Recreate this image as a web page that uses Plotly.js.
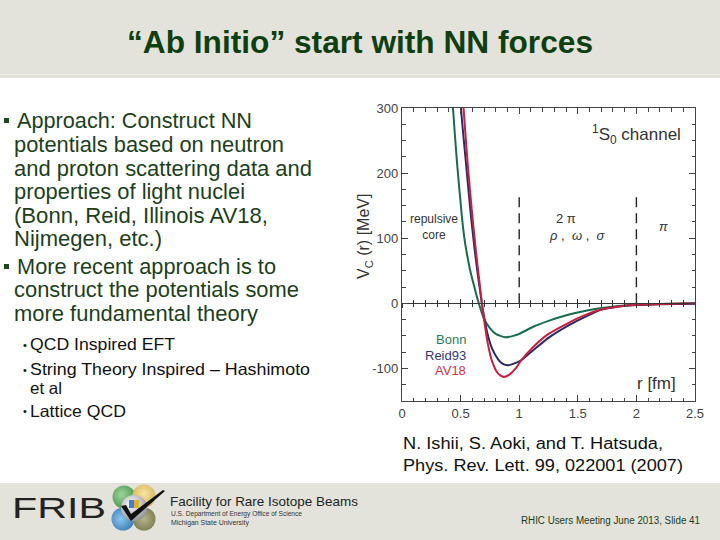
<!DOCTYPE html>
<html>
<head>
<meta charset="utf-8">
<script src="https://cdn.plot.ly/plotly-3.0.1.min.js"></script>
<style>
  html, body { margin:0; padding:0; background:#ffffff; }
  #slide { position:relative; width:720px; height:540px; overflow:hidden; background:#ffffff; font-family:"Liberation Sans", Arial, sans-serif; }
  .band { position:absolute; left:0; width:720px; background:#e4e3db; }
  .t { position:absolute; white-space:nowrap; line-height:1; transform-origin:0 0; }
  #chart { position:absolute; left:0; top:0; width:720px; height:540px; }
</style>
</head>
<body>
<div id="slide">
  <div class="band" style="top:0;height:78px;"></div>
  <div class="band" style="top:74px;height:1px;background:#ecebe5;"></div>
  <div class="band" style="top:483px;height:57px;"></div>
  <div style="position:absolute;left:4px;top:118px;width:5px;height:5px;background:#1c4a1c;"></div>
  <div style="position:absolute;left:4px;top:264px;width:5px;height:5px;background:#1c4a1c;"></div>
  <svg style="position:absolute;left:100px;top:484px;" width="80" height="56" viewBox="100 484 80 56">
    <defs>
      <radialGradient id="gG" cx="0.4" cy="0.4" r="0.7"><stop offset="0" stop-color="#9fd49a"/><stop offset="1" stop-color="#3f8f4a"/></radialGradient>
      <radialGradient id="gY" cx="0.5" cy="0.4" r="0.7"><stop offset="0" stop-color="#f5e6a6"/><stop offset="1" stop-color="#d2a84a"/></radialGradient>
      <radialGradient id="gB" cx="0.4" cy="0.5" r="0.7"><stop offset="0" stop-color="#8cc6ee"/><stop offset="1" stop-color="#2c6fae"/></radialGradient>
      <radialGradient id="gO" cx="0.5" cy="0.5" r="0.7"><stop offset="0" stop-color="#b6b48a"/><stop offset="1" stop-color="#6f6c45"/></radialGradient>
      <radialGradient id="gS" cx="0.4" cy="0.35" r="0.7"><stop offset="0" stop-color="#ffffff"/><stop offset="1" stop-color="#8c8f94"/></radialGradient>
    </defs>
    <circle cx="124" cy="497" r="11.5" fill="url(#gG)"/>
    <circle cx="144" cy="496" r="11.5" fill="url(#gY)"/>
    <circle cx="123" cy="519" r="11.5" fill="url(#gB)"/>
    <circle cx="144" cy="519" r="11.5" fill="url(#gO)"/>
    <circle cx="134" cy="508" r="13" fill="url(#gS)"/>
    <rect x="129" y="500" width="6" height="8" fill="#3f7fd0"/>
    <rect x="134" y="500" width="5" height="8" fill="#e0b030"/>
    <path d="M121 506 L126 505 L131 514 L163 490 L165 491 L131 521 Z" fill="#111"/>
  </svg>
</div>
<div id="chart"></div>
<script>
// ---------- chart data ----------
const bonnR = [0.40, 0.435, 0.47, 0.51, 0.53, 0.555, 0.58, 0.61, 0.655, 0.70, 0.75, 0.80, 0.88, 0.95, 1.00, 1.12, 1.25, 1.41, 1.55, 1.69, 1.85, 1.97, 2.20, 2.50];
const bonnV = [420, 300, 215, 135, 103, 75, 52, 30, 0, -24, -38, -47, -52, -50, -47, -36, -27, -18, -12, -7.7, -4, -2.5, -1, 0];

const reidR = [0.49, 0.503, 0.546, 0.585, 0.62, 0.65, 0.68, 0.70, 0.73, 0.77, 0.82, 0.86, 0.905, 0.95, 1.02, 1.12, 1.25, 1.41, 1.55, 1.69, 1.85, 1.97, 2.20, 2.50];
const reidV = [355, 300, 215, 140, 82, 40, 2, -20, -47, -70, -86, -93, -95, -93, -87, -72, -53, -35, -22, -10.5, -5, -3, -1.5, -0.5];

const av18R = [0.505, 0.525, 0.56, 0.597, 0.63, 0.655, 0.68, 0.70, 0.73, 0.77, 0.82, 0.866, 0.92, 0.97, 1.02, 1.12, 1.25, 1.41, 1.55, 1.69, 1.85, 1.97, 2.20, 2.50];
const av18V = [355, 300, 215, 140, 82, 42, 3, -25, -60, -90, -108, -113, -109, -100, -87, -67, -47, -31, -19, -10, -5, -2.5, -1, 0];

const seriesNames = ["Bonn", "Reid93", "AV18"];
const sepX = [1, 2];          // region boundaries (fm)
const sepTop = 170;           // top of dashed boundary lines (MeV)
const xTickVals = [0, 0.5, 1, 1.5, 2, 2.5];
const xTickText = ["0", "0.5", "1", "1.5", "2", "2.5"];
const yTickVals = [-100, 0, 100, 200, 300];
const yTickText = ["-100", "0", "100", "200", "300"];
const xRange = [0, 2.5];
const yRange = [-150, 300];

const cGreen = "#176e4e", cNavy = "#2a2c66", cRed = "#c8203e";
const FONT = "Liberation Sans, Arial, sans-serif";

const traces = [
  {x: bonnR, y: bonnV, mode: "lines", line: {color: cGreen, width: 2, shape: "spline", smoothing: 0.6}, name: seriesNames[0], hoverinfo: "skip"},
  {x: reidR, y: reidV, mode: "lines", line: {color: cNavy, width: 2, shape: "spline", smoothing: 0.6}, name: seriesNames[1], hoverinfo: "skip"},
  {x: av18R, y: av18V, mode: "lines", line: {color: cRed, width: 2, shape: "spline", smoothing: 0.6}, name: seriesNames[2], hoverinfo: "skip"},
  {x: [sepX[0], sepX[0], null, sepX[1], sepX[1]], y: [0, sepTop, null, 0, sepTop], mode: "lines",
   line: {color: "#222", width: 1.4, dash: "10px,6px"}, hoverinfo: "skip"},
  {x: [], y: [], xaxis: "x2", yaxis: "y", mode: "lines", hoverinfo: "skip"},
  {x: [], y: [], xaxis: "x3", yaxis: "y", mode: "lines", hoverinfo: "skip"}
];

const zeroAxis = (ticks) => ({
  overlaying: "x", anchor: "free", position: (0 - yRange[0]) / (yRange[1] - yRange[0]),
  range: xRange, side: "bottom", showline: true, linecolor: "#333", linewidth: 1,
  tickvals: xTickVals, showticklabels: false, ticks: ticks, ticklen: 4, tickcolor: "#333", tickwidth: 1,
  minor: {dtick: 0.1, ticks: ticks, ticklen: 3, tickcolor: "#333", tickwidth: 1},
  showgrid: false, zeroline: false, fixedrange: true
});

const layout = {
  width: 720, height: 540,
  margin: {l: 402, r: 25, t: 108, b: 139, pad: 0},
  paper_bgcolor: "rgba(0,0,0,0)", plot_bgcolor: "#ffffff",
  showlegend: false,
  font: {family: FONT, color: "#333"},
  xaxis: {
    range: xRange, tickvals: xTickVals, ticktext: xTickText,
    ticks: "inside", ticklen: 6, tickcolor: "#444", tickwidth: 1,
    minor: {dtick: 0.1, ticks: "inside", ticklen: 3.5, tickcolor: "#444", tickwidth: 1},
    showline: true, linecolor: "#444", linewidth: 1.2, mirror: "ticks",
    showgrid: false, zeroline: false, tickfont: {size: 13, color: "#444"}, fixedrange: true
  },
  xaxis2: zeroAxis("inside"),
  xaxis3: zeroAxis("outside"),
  yaxis: {
    range: yRange, tickvals: yTickVals, ticktext: yTickText,
    ticks: "inside", ticklen: 6, tickcolor: "#444", tickwidth: 1,
    minor: {dtick: 25, ticks: "inside", ticklen: 3.5, tickcolor: "#444", tickwidth: 1},
    showline: true, linecolor: "#444", linewidth: 1.2, mirror: "ticks",
    showgrid: false, zeroline: false, tickfont: {size: 13, color: "#444"}, fixedrange: true
  },
  annotations: [
    {xref: "paper", yref: "paper", x: -0.126, y: 0.56, text: "V<sub>C</sub> (r) [MeV]", textangle: -90,
     showarrow: false, font: {size: 16, color: "#333"}, xanchor: "center", yanchor: "middle"},
    {x: 2.0, y: 259, text: "<sup>1</sup>S<sub>0</sub> channel", showarrow: false, font: {size: 17, color: "#333"}},
    {x: 2.17, y: -123, text: "r [fm]", showarrow: false, font: {size: 17, color: "#333"}},
    {x: 0.27, y: 118, text: "repulsive<br>core", showarrow: false, font: {size: 12, color: "#333"}},
    {x: 1.40, y: 131, text: "2 π", showarrow: false, font: {size: 13, color: "#333"}},
    {x: 1.49, y: 104, text: "<i>ρ</i> ,  <i>ω</i> ,  <i>σ</i>", showarrow: false, font: {size: 13, color: "#333"}},
    {x: 2.23, y: 118, text: "<i>π</i>", showarrow: false, font: {size: 13, color: "#333"}},
    {x: 0.565, y: -55, text: seriesNames[0], showarrow: false, xanchor: "right", font: {size: 13, color: "#2a7a5a"}},
    {x: 0.565, y: -79.5, text: seriesNames[1], showarrow: false, xanchor: "right", font: {size: 13, color: "#34367a"}},
    {x: 0.565, y: -102.5, text: seriesNames[2], showarrow: false, xanchor: "right", font: {size: 13, color: "#d0324c"}}
  ]
};

Plotly.newPlot("chart", traces, layout, {displayModeBar: false, staticPlot: true});

// ---------- slide text ----------
// [text, left x, baseline y, font size, target width, color, weight]
const slideLines = [
  ["“Ab Initio” start with NN forces", 127, 53, 32, 466, "#0f3f10", "bold"],
  ["Approach: Construct NN", 16.5, 129.3, 21.5, 235, "#1c3f1c", "normal"],
  ["potentials based on neutron", 14, 153.3, 21.5, 270, "#1c3f1c", "normal"],
  ["and proton scattering data and", 14, 177, 21.5, 298, "#1c3f1c", "normal"],
  ["properties of light nuclei", 14, 200.5, 21.5, 231, "#1c3f1c", "normal"],
  ["(Bonn, Reid, Illinois AV18,", 14, 224, 21.5, 254, "#1c3f1c", "normal"],
  ["Nijmegen, etc.)", 14, 247, 21.5, 148, "#1c3f1c", "normal"],
  ["More recent approach is to", 16.5, 275, 21.5, 259, "#1c3f1c", "normal"],
  ["construct the potentials some", 14, 298.5, 21.5, 285, "#1c3f1c", "normal"],
  ["more fundamental theory", 14, 322, 21.5, 244, "#1c3f1c", "normal"],
  ["•", 23, 349, 11, 0, "#111", "normal"],
  ["QCD Inspired EFT", 30, 350, 16.5, 145, "#111", "normal"],
  ["•", 23, 374, 11, 0, "#111", "normal"],
  ["String Theory Inspired – Hashimoto", 30, 375, 16.5, 280, "#111", "normal"],
  ["et al", 30, 393.5, 16.5, 32, "#111", "normal"],
  ["•", 23, 415.5, 11, 0, "#111", "normal"],
  ["Lattice QCD", 30, 416.5, 16.5, 96, "#111", "normal"],
  ["N. Ishii, S. Aoki, and T. Hatsuda,", 403, 450, 16, 260, "#111", "normal"],
  ["Phys. Rev. Lett. 99, 022001 (2007)", 403, 472, 16, 280, "#111", "normal"],
  ["FRIB", 12, 518.3, 29, 94, "#222", "normal"],
  ["Facility for Rare Isotope Beams", 170, 506, 13, 188, "#222", "normal"],
  ["U.S. Department of Energy Office of Science", 170.5, 517, 8, 131, "#333", "normal"],
  ["Michigan State University", 170.5, 526, 8, 78, "#333", "normal"],
  ["RHIC Users Meeting June 2013, Slide 41", 520.7, 524, 10, 179, "#1a3d1a", "normal"]
];

const slide = document.getElementById("slide");
slideLines.forEach(([txt, x, base, fs, w, col, wt]) => {
  const d = document.createElement("div");
  d.className = "t";
  d.textContent = txt;
  d.style.left = x + "px";
  d.style.top = (base - 0.8465 * fs) + "px";
  d.style.fontSize = fs + "px";
  d.style.color = col;
  d.style.fontWeight = wt;
  slide.appendChild(d);
  if (w > 0) {
    const cw = d.getBoundingClientRect().width;
    if (cw > 0) d.style.transform = "scaleX(" + (w / cw) + ")";
  }
});
</script>
</body>
</html>
